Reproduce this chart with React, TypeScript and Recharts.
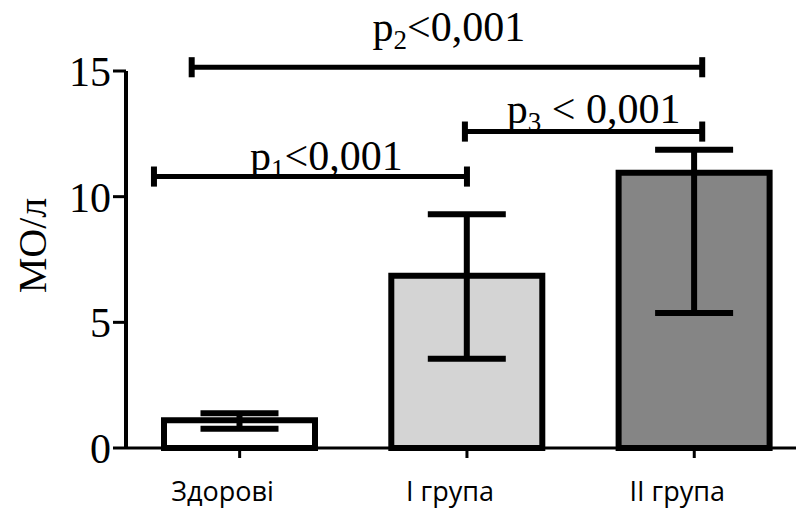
import React from 'react';
import { BarChart, Bar, XAxis, YAxis, ErrorBar, Cell, ReferenceLine, Label } from 'recharts';

const categories = ['Здорові', 'І група', 'ІІ група'];
const means = [1.1, 6.85, 10.95];
const errLow = [0.77, 3.55, 5.37];
const errHigh = [1.38, 9.3, 11.87];
const fills = ['#ffffff', '#d4d4d4', '#858585'];
const yTicks = [0, 5, 10, 15];

// significance brackets: [xStart, xEnd, y, subscript, text, labelDx, labelGap]
const brackets: [number, number, number, string, string, number, number][] = [
  [-0.377, 1.0, 10.8, '1', '<0,001', 16, 7],
  [-0.211, 2.035, 15.15, '2', '<0,001', 2, 26],
  [0.991, 2.035, 12.59, '3', ' < 0,001', 10, 9],
];

const rows = categories.map((c, i) => ({
  x: i,
  name: c,
  mean: means[i],
  err: [means[i] - errLow[i], errHigh[i] - means[i]],
}));

const SERIF = '"Liberation Serif", "Times New Roman", serif';

const SigLabel = (props: any) => {
  const { viewBox, sub, rest, shift, gap } = props;
  if (!viewBox) return null;
  const cx = viewBox.x + viewBox.width / 2 + shift;
  const y = viewBox.y - gap;
  return (
    <text x={cx} y={y} textAnchor="middle" fontFamily={SERIF} fontSize={42} fill="#000" style={{ whiteSpace: 'pre' }}>
      <tspan>p</tspan>
      <tspan fontSize={27} dy={8}>{sub}</tspan>
      <tspan dy={-8}>{rest}</tspan>
    </text>
  );
};

export default function App() {
  return (
    <div style={{ position: 'absolute', left: 0, top: 0, width: 796, height: 508, background: '#fff', overflow: 'hidden' }}>
      <BarChart width={796} height={508} data={rows} margin={{ top: 71, right: 0, bottom: 0, left: 0 }}>
        <XAxis
          type="number"
          dataKey="x"
          domain={[-0.5, 2.4476]}
          allowDataOverflow
          ticks={[0, 1, 2]}
          tickFormatter={(v: number) => categories[v] ?? ''}
          height={60}
          axisLine={{ stroke: '#000', strokeWidth: 3 }}
          tickLine={{ stroke: '#000', strokeWidth: 3 }}
          tickSize={10}
          tickMargin={24}
          tick={{ fill: '#000', fontSize: 27, fontFamily: '"Open Sans", sans-serif', dx: -17 }}
          interval={0}
        />
        <YAxis
          type="number"
          domain={[0, 15]}
          ticks={yTicks}
          width={126}
          axisLine={{ stroke: '#000', strokeWidth: 4 }}
          tickLine={{ stroke: '#000', strokeWidth: 3 }}
          tickSize={13}
          tickMargin={2}
          tick={{ fill: '#000', fontSize: 42, fontFamily: SERIF }}
        >
          <Label
            value="МО/л"
            angle={-90}
            position="center"
            dx={-31}
            dy={-14}
            style={{ fill: '#000', fontSize: 40, fontFamily: SERIF }}
          />
        </YAxis>
        <Bar dataKey="mean" barSize={151} stroke="#000" strokeWidth={6} isAnimationActive={false}>
          {rows.map((r, i) => (
            <Cell key={r.name} fill={fills[i]} />
          ))}
          <ErrorBar dataKey="err" direction="y" width={39} stroke="#000" strokeWidth={6} isAnimationActive={false} />
        </Bar>
        {brackets.map(([x1, x2, y, sub, rest, shift, gap], i) => (
          <ReferenceLine
            key={'h' + i}
            segment={[{ x: x1, y }, { x: x2, y }]}
            stroke="#000"
            strokeWidth={5}
            ifOverflow="visible"
            label={<SigLabel sub={sub} rest={rest} shift={shift} gap={gap} />}
          />
        ))}
        {brackets.map(([x1, , y], i) => (
          <ReferenceLine
            key={'l' + i}
            segment={[{ x: x1, y: y - 0.4 }, { x: x1, y: y + 0.4 }]}
            stroke="#000"
            strokeWidth={6}
            ifOverflow="visible"
          />
        ))}
        {brackets.map(([, x2, y], i) => (
          <ReferenceLine
            key={'r' + i}
            segment={[{ x: x2, y: y - 0.4 }, { x: x2, y: y + 0.4 }]}
            stroke="#000"
            strokeWidth={6}
            ifOverflow="visible"
          />
        ))}
      </BarChart>
    </div>
  );
}
